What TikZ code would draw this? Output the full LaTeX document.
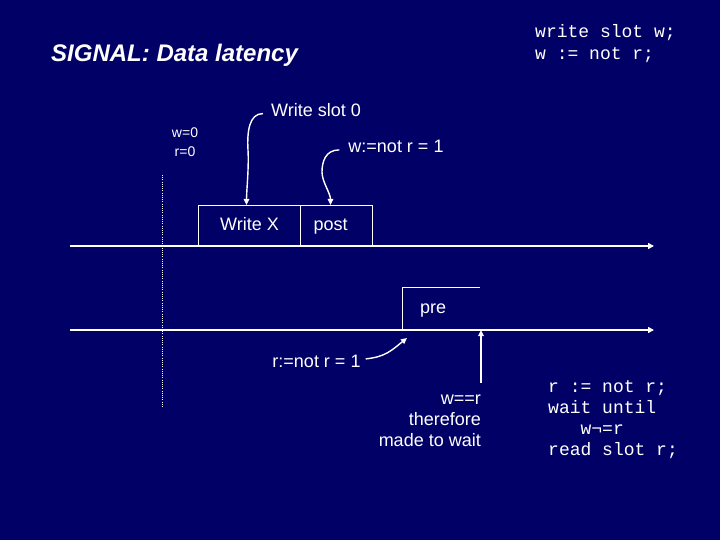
\documentclass[tikz,border=0pt]{standalone}
\usepackage{fontspec}
\setmainfont{Liberation Sans}
\setmonofont{Liberation Mono}
\usetikzlibrary{arrows.meta}
\definecolor{slidebg}{RGB}{0,0,102}

\begin{document}
\begin{tikzpicture}[x=1pt,y=-1pt,
	every node/.style={text=white,inner sep=0pt,font=\fontsize{18}{21}\selectfont},
	heading/.style={font=\bfseries\itshape\fontsize{24}{28}\selectfont,anchor=base west},
	code/.style={font=\ttfamily\fontsize{18}{21}\selectfont,align=left,anchor=base west},
	slotbox/.style={draw=white,line width=1pt,minimum height=40pt,text height=13pt,text depth=4pt,anchor=south west},
	timeline/.style={draw=white,line width=2pt,-{Triangle[length=6pt,width=6pt]}},
	pointer/.style={draw=white,line width=1.4pt,-{Triangle[length=6pt,width=5.5pt]}}]
				\fill [slidebg] (0,0) rectangle (720,540);
				\node [heading] (title) at (51,62) {SIGNAL: Data latency};
				\node [code,font=\ttfamily\fontsize{18}{22.5}\selectfont] (wcode) at (535,60) {write slot w;\\w := not r;};
				\node [code] (rcode) at (548,455) {r := not r;\\wait until\\\hspace*{1.8em}w¬=r\\read slot r;};
				\node [align=center,anchor=base,font=\fontsize{14}{19}\selectfont] (init) at (185,157) {w=0\\r=0};
				\node [anchor=base] (wslot) at (316,117) {Write slot 0};
				\node [anchor=base] (wnot) at (396,153) {w:=not r = 1};
				\node [anchor=base] (rnot) at (316.5,367) {r:=not r = 1};
				\node [align=right,anchor=base east] (waitnote) at (481,446) {w==r\\therefore\\made to wait};
				\coordinate (topstart) at (70,246);
				\coordinate (topend) at (654,246);
				\coordinate (lowstart) at (70,330);
				\coordinate (lowend) at (654,330);
				\node [slotbox,minimum width=102pt] (writex) at (198,246) {Write X};
				\node [slotbox,text width=46pt,inner xsep=13pt,align=left] (post) at (300,246) {post};
				\node [anchor=south west,minimum height=42pt,text height=13pt,text depth=4pt,text width=42pt,inner xsep=18pt,align=left] (prebox) at (402,330) {pre};
				\draw [white,line width=1pt] (prebox.south west) |- (prebox.north east);
				\draw [white,line width=0.8pt,dash pattern=on 1pt off 1.2pt] (162,175) -- (162,408);
				\draw [timeline] (topstart) -- (topend);
				\draw [timeline] (lowstart) -- (lowend);
				\draw [pointer] ([xshift=-8pt,yshift=-3pt]wslot.west) .. controls +(-14,0) and +(-1,-18) .. (248,150) .. controls +(1,18) and +(0,-14) .. ([xshift=-3pt]writex.north);
				\draw [pointer] ([xshift=-9pt,yshift=-3pt]wnot.west) .. controls +(-14,0) and +(0,-10) .. (322,172) .. controls +(0,10) and +(0,-12) .. ([xshift=-6pt]post.north);
				\draw [pointer] ([xshift=5pt,yshift=2pt]rnot.east) .. controls +(20,-2) and +(-15,12) .. ([xshift=5pt,yshift=-8pt]prebox.south west);
				\draw [pointer] ([yshift=11pt]waitnote.north east) -- (waitnote.north east |- lowstart);
\end{tikzpicture}
\end{document}
